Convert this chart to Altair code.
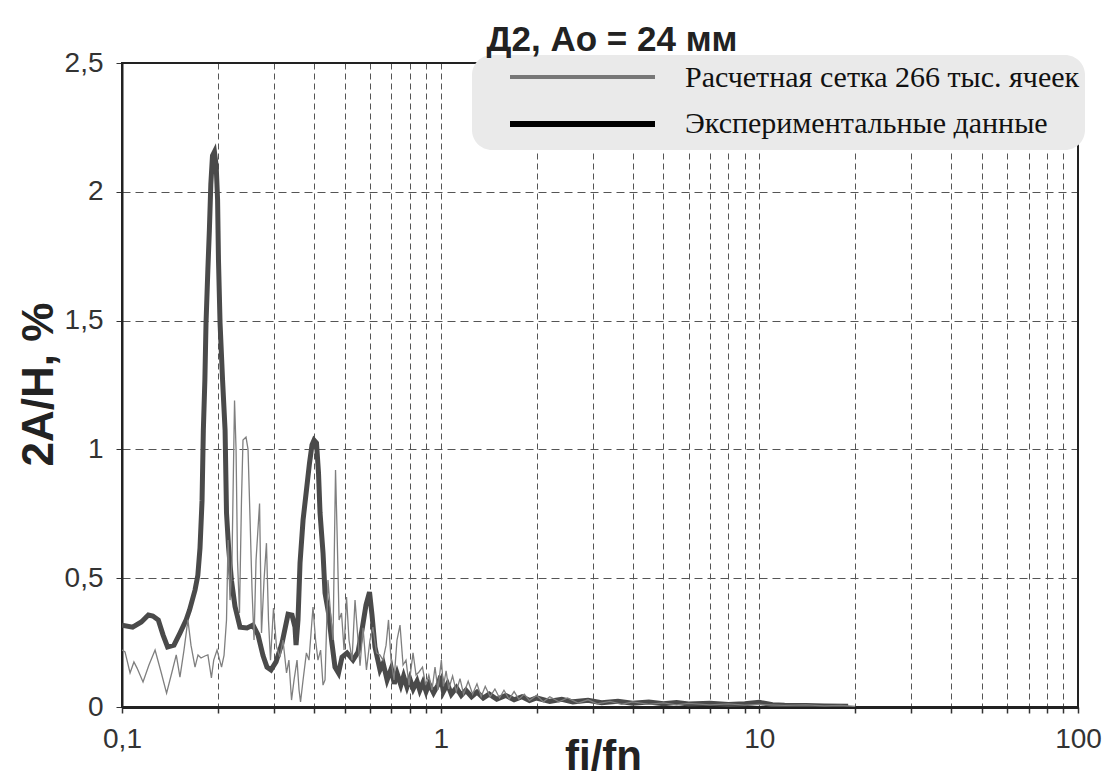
import altair as alt
import pandas as pd

series_names = ["Расчетная сетка 266 тыс. ячеек", "Экспериментальные данные"]
title_text = "Д2, Ао = 24 мм"
x_title = "fi/fn"
y_title = "2A/H, %"

# Experimental data (thick line)
exp_x = [0.100, 0.108, 0.115, 0.121, 0.125, 0.130, 0.1345, 0.139, 0.1456, 0.152,
         0.159, 0.163, 0.1695, 0.173, 0.1757, 0.1783, 0.180, 0.182, 0.1835, 0.186,
         0.188, 0.190, 0.1923, 0.195, 0.1975, 0.1995, 0.2008, 0.2031, 0.2068, 0.2106,
         0.2128, 0.216, 0.2206, 0.2263, 0.2346, 0.2468, 0.2577, 0.2672, 0.277, 0.2851,
         0.2935, 0.3043, 0.3178, 0.332, 0.3416, 0.349, 0.3517, 0.3567, 0.362, 0.370,
         0.379, 0.3876, 0.3947, 0.4005, 0.4077, 0.4137, 0.4183, 0.4274, 0.4336, 0.4447,
         0.4545, 0.466, 0.478, 0.4903, 0.5083, 0.5308, 0.5504, 0.5665, 0.583, 0.598,
         0.6089, 0.622, 0.645, 0.66, 0.679, 0.70, 0.715, 0.73, 0.75, 0.765,
         0.784, 0.80, 0.82, 0.843, 0.86, 0.88, 0.90, 0.92, 0.95, 0.98,
         1.00, 1.02, 1.05, 1.08, 1.12, 1.16, 1.2, 1.25, 1.3, 1.36,
         1.42, 1.5, 1.6, 1.7, 1.8, 1.9, 2.0, 2.2, 2.4, 2.6,
         2.9, 3.2, 3.6, 4.0, 4.5, 5.0, 5.5, 6.0, 7.0, 8.0,
         9.0, 10.0, 11.0, 12.0, 14.0, 16.0, 19.0]
exp_y = [0.318, 0.31, 0.33, 0.357, 0.353, 0.338, 0.28, 0.233, 0.24, 0.287,
         0.338, 0.377, 0.454, 0.512, 0.617, 0.80, 1.075, 1.27, 1.49, 1.70,
         1.85, 2.03, 2.14, 2.155, 2.10, 1.97, 1.735, 1.49, 1.27, 1.075,
         0.753, 0.62, 0.49, 0.39, 0.31, 0.307, 0.318, 0.28, 0.2, 0.155,
         0.144, 0.175, 0.248, 0.36, 0.357, 0.31, 0.24, 0.338, 0.56, 0.726,
         0.84, 0.947, 1.017, 1.036, 1.025, 0.908, 0.753, 0.598, 0.443, 0.365,
         0.26, 0.155, 0.132, 0.194, 0.21, 0.182, 0.213, 0.30, 0.396, 0.446,
         0.357, 0.233, 0.144, 0.17, 0.105, 0.15, 0.09, 0.13, 0.085, 0.12,
         0.078, 0.11, 0.07, 0.1, 0.065, 0.095, 0.06, 0.09, 0.055, 0.085,
         0.12, 0.06, 0.09, 0.05, 0.075, 0.045, 0.065, 0.04, 0.058, 0.035,
         0.05, 0.03, 0.045, 0.028, 0.04, 0.025, 0.035, 0.022, 0.03, 0.02,
         0.026, 0.017, 0.022, 0.015, 0.019, 0.013, 0.017, 0.012, 0.015, 0.01,
         0.013, 0.018, 0.009, 0.007, 0.006, 0.004, 0.003]

# Computed data (thin line)
sim_x = [0.100, 0.1022, 0.106, 0.109, 0.1115, 0.1164, 0.1215, 0.127, 0.1326, 0.138,
         0.1435, 0.148, 0.152, 0.1565, 0.161, 0.1646, 0.1695, 0.1732, 0.177, 0.182,
         0.186, 0.1908, 0.194, 0.1987, 0.2053, 0.209, 0.2128, 0.2152, 0.2183, 0.2214,
         0.2255, 0.228, 0.2304, 0.2337, 0.2371, 0.2397, 0.245, 0.2486, 0.2523, 0.2559,
         0.2596, 0.2634, 0.2702, 0.274, 0.279, 0.284, 0.2882, 0.2924, 0.2988, 0.3054,
         0.313, 0.320, 0.3283, 0.334, 0.3404, 0.3467, 0.3542, 0.3594, 0.3633, 0.370,
         0.379, 0.3862, 0.3975, 0.405, 0.412, 0.42, 0.4274, 0.4336, 0.443, 0.453,
         0.4594, 0.4678, 0.4729, 0.480, 0.4885, 0.4975, 0.5065, 0.5157, 0.527, 0.5386,
         0.5504, 0.5584, 0.5706, 0.585, 0.600, 0.613, 0.629, 0.645, 0.659, 0.674,
         0.686, 0.6986, 0.714, 0.7294, 0.7455, 0.762, 0.7785, 0.7955, 0.819, 0.837,
         0.855, 0.877, 0.897, 0.918, 0.9393, 0.960, 0.980, 1.005, 1.02, 1.04,
         1.06, 1.09, 1.12, 1.15, 1.18, 1.22, 1.26, 1.3, 1.34, 1.38,
         1.43, 1.48, 1.53, 1.58, 1.64, 1.7, 1.76, 1.83, 1.9, 2.0,
         2.1, 2.2, 2.35, 2.5, 2.7, 2.9, 3.1, 3.4, 3.7, 4.0,
         4.5, 5.0, 5.5, 6.0, 7.0, 8.0, 9.0, 10.0, 12.0, 14.0,
         16.0, 18.0, 20.0]
sim_y = [0.221, 0.214, 0.132, 0.175, 0.151, 0.097, 0.163, 0.221, 0.136, 0.054,
         0.136, 0.202, 0.116, 0.221, 0.338, 0.24, 0.155, 0.202, 0.19, 0.198,
         0.202, 0.113, 0.182, 0.221, 0.155, 0.2, 0.338, 0.648, 0.415, 0.57,
         1.19, 1.0, 0.57, 0.365, 0.80, 1.036, 1.048, 1.0, 0.726, 0.454,
         0.26, 0.57, 0.79, 0.287, 0.49, 0.636, 0.338, 0.182, 0.384, 0.233,
         0.194, 0.26, 0.132, 0.182, 0.027, 0.105, 0.182, 0.066, 0.02, 0.105,
         0.21, 0.182, 0.388, 0.26, 0.182, 0.221, 0.085, 0.105, 0.493, 0.338,
         0.26, 0.92, 0.687, 0.338, 0.365, 0.221, 0.427, 0.26, 0.182, 0.415,
         0.26, 0.16, 0.307, 0.144, 0.26, 0.31, 0.21, 0.202, 0.182, 0.24,
         0.338, 0.182, 0.105, 0.26, 0.318, 0.163, 0.182, 0.085, 0.21, 0.124,
         0.136, 0.155, 0.085, 0.124, 0.066, 0.155, 0.066, 0.182, 0.08, 0.14,
         0.07, 0.12, 0.06, 0.11, 0.05, 0.1, 0.05, 0.09, 0.04, 0.08,
         0.04, 0.07, 0.035, 0.065, 0.03, 0.06, 0.03, 0.05, 0.025, 0.045,
         0.02, 0.04, 0.02, 0.035, 0.015, 0.028, 0.012, 0.022, 0.01, 0.02,
         0.01, 0.016, 0.008, 0.014, 0.008, 0.012, 0.007, 0.01, 0.006, 0.008,
         0.004, 0.006, 0.002]

x_grid = [0.1, 0.2, 0.3, 0.4, 0.5, 0.6, 0.7, 0.8, 0.9,
          1, 2, 3, 4, 5, 6, 7, 8, 9,
          10, 20, 30, 40, 50, 60, 70, 80, 90, 100]
x_labeled = [0.1, 1, 10, 100]
y_ticks = [0, 0.5, 1, 1.5, 2, 2.5]

W, H = 956, 644
FONT = "Liberation Sans"

exp_df = pd.DataFrame({"x": exp_x, "y": exp_y, "i": range(len(exp_x)), "series": series_names[1]})
sim_df = pd.DataFrame({"x": sim_x, "y": sim_y, "i": range(len(sim_x)), "series": series_names[0]})

label_list = ",".join(str(v) for v in x_labeled)
x_axis = alt.Axis(
    values=x_grid, title=x_title, grid=True, gridDash=[6, 4], gridColor="#555555",
    gridWidth=1, labelExpr=f"indexof([{label_list}], datum.value) >= 0 ? replace(datum.label, '.', ',') : ''",
    format="~g", labelOverlap=False, labelFlush=False, labelFont=FONT, labelFontSize=28,
    labelColor="#333333", labelPadding=12, tickSize=6, tickColor="#333333", tickWidth=1.5,
    domainColor="#222222", domainWidth=3, titleFont=FONT, titleFontSize=42,
    titleFontWeight="bold", titleColor="#222222", titleX=481, titleY=62,
    titleBaseline="alphabetic",
)
y_axis = alt.Axis(
    values=y_ticks, title=y_title, grid=True, gridDash=[8, 5], gridColor="#555555",
    gridWidth=1, format=".1~f", labelExpr="replace(datum.label, '.', ',')",
    labelFont=FONT, labelFontSize=28, labelColor="#333333", labelPadding=13,
    tickSize=6, tickColor="#333333", domainColor="#222222", domainWidth=2,
    titleFont=FONT, titleFontSize=44, titleFontWeight="bold", titleColor="#222222",
    titleX=-70, titleY=321, titleBaseline="alphabetic", titleAngle=-90,
)
x_scale = alt.Scale(type="log", domain=[0.1, 100], nice=False)
y_scale = alt.Scale(domain=[0, 2.5], nice=False)

one = pd.DataFrame({"a": [0]})

frame = alt.Chart(one).mark_rect(filled=False, stroke="#222222", strokeWidth=2).encode(
    x=alt.value(0), x2=alt.value(W), y=alt.value(0), y2=alt.value(H)
)

exp_line = alt.Chart(exp_df).mark_line(color="#4a4a4a", strokeWidth=5, clip=True).encode(
    x=alt.X("x:Q", scale=x_scale, axis=x_axis),
    y=alt.Y("y:Q", scale=y_scale, axis=y_axis),
    order="i:Q",
)
sim_line = alt.Chart(sim_df).mark_line(color="#7f7f7f", strokeWidth=1.3, clip=True).encode(
    x=alt.X("x:Q", scale=x_scale, axis=x_axis),
    y=alt.Y("y:Q", scale=y_scale, axis=y_axis),
    order="i:Q",
)

legend_box = alt.Chart(one).mark_rect(fill="#eaeaea", cornerRadius=20).encode(
    x=alt.value(350), x2=alt.value(963), y=alt.value(-8), y2=alt.value(87)
)
leg_line1 = alt.Chart(one).mark_rule(color="#777777", strokeWidth=4).encode(
    x=alt.value(388), x2=alt.value(533), y=alt.value(14)
)
leg_line2 = alt.Chart(one).mark_rule(color="#000000", strokeWidth=6).encode(
    x=alt.value(388), x2=alt.value(533), y=alt.value(61)
)
leg_text1 = alt.Chart(one).mark_text(
    align="left", baseline="middle", font="Liberation Serif", fontSize=30, color="#111111"
).encode(x=alt.value(563), y=alt.value(15), text=alt.value(series_names[0]))
leg_text2 = alt.Chart(one).mark_text(
    align="left", baseline="middle", font="Liberation Serif", fontSize=30, color="#111111"
).encode(x=alt.value(563), y=alt.value(61), text=alt.value(series_names[1]))

title = alt.Chart(one).mark_text(
    align="center", baseline="middle", font=FONT, fontSize=35, fontWeight="bold", color="#222222"
).encode(x=alt.value(490), y=alt.value(-23), text=alt.value(title_text))

chart = alt.layer(
    frame, exp_line, sim_line, legend_box, leg_line1, leg_line2, leg_text1, leg_text2, title
).properties(
    width=W, height=H,
    autosize=alt.AutoSizeParams(type="none"),
    padding={"left": 114, "top": 55, "right": 24, "bottom": 72},
).configure_view(strokeWidth=0)

chart.save("out.html", embed_options={"renderer": "svg", "actions": False})
